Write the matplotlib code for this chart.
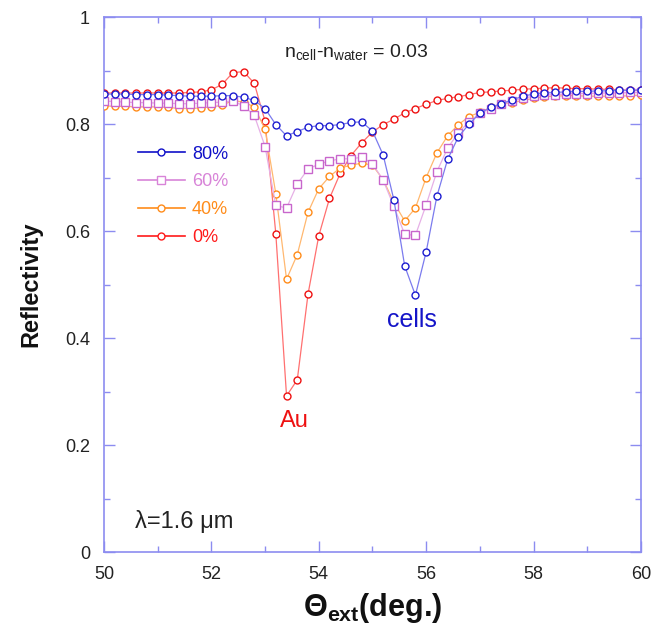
import numpy as np
import matplotlib
matplotlib.use('Agg')
import matplotlib.pyplot as plt
from matplotlib.lines import Line2D
from matplotlib.ticker import MultipleLocator

plt.rcParams['font.family'] = ['Liberation Sans', 'DejaVu Sans']
plt.rcParams['mathtext.fontset'] = 'custom'
plt.rcParams['mathtext.rm'] = 'Liberation Sans'
plt.rcParams['mathtext.it'] = 'Liberation Sans'
plt.rcParams['mathtext.bf'] = 'Liberation Sans:bold'

# incidence angle (deg.)
angle = [50.0, 50.2, 50.4, 50.6, 50.8, 51.0, 51.2, 51.4, 51.6, 51.8,
         52.0, 52.2, 52.4, 52.6, 52.8, 53.0, 53.2, 53.4, 53.6, 53.8,
         54.0, 54.2, 54.4, 54.6, 54.8, 55.0, 55.2, 55.4, 55.6, 55.8,
         56.0, 56.2, 56.4, 56.6, 56.8, 57.0, 57.2, 57.4, 57.6, 57.8,
         58.0, 58.2, 58.4, 58.6, 58.8, 59.0, 59.2, 59.4, 59.6, 59.8, 60.0]

# reflectivity for each cell coverage
r_80 = [0.856, 0.856, 0.856, 0.855, 0.855, 0.855, 0.854, 0.853, 0.852, 0.852,
        0.852, 0.853, 0.853, 0.850, 0.844, 0.829, 0.799, 0.778, 0.786, 0.794,
        0.797, 0.797, 0.799, 0.803, 0.804, 0.787, 0.742, 0.658, 0.535, 0.480,
        0.561, 0.665, 0.734, 0.776, 0.800, 0.820, 0.831, 0.838, 0.845, 0.852,
        0.856, 0.858, 0.859, 0.860, 0.861, 0.861, 0.862, 0.862, 0.863, 0.863, 0.864]
r_60 = [0.843, 0.842, 0.841, 0.840, 0.840, 0.839, 0.839, 0.838, 0.838, 0.839,
        0.840, 0.841, 0.843, 0.834, 0.816, 0.758, 0.648, 0.643, 0.688, 0.716,
        0.725, 0.731, 0.735, 0.735, 0.738, 0.726, 0.695, 0.646, 0.594, 0.592,
        0.649, 0.711, 0.755, 0.784, 0.804, 0.820, 0.829, 0.837, 0.843, 0.848,
        0.852, 0.854, 0.855, 0.856, 0.857, 0.857, 0.858, 0.858, 0.858, 0.859, 0.859]
r_40 = [0.834, 0.833, 0.833, 0.832, 0.832, 0.832, 0.831, 0.829, 0.829, 0.830,
        0.832, 0.835, 0.844, 0.841, 0.832, 0.790, 0.670, 0.510, 0.556, 0.635,
        0.679, 0.702, 0.718, 0.723, 0.727, 0.723, 0.696, 0.653, 0.619, 0.643,
        0.700, 0.746, 0.778, 0.799, 0.814, 0.822, 0.831, 0.838, 0.840, 0.844,
        0.848, 0.851, 0.852, 0.853, 0.853, 0.852, 0.852, 0.852, 0.852, 0.853, 0.854]
r_0 = [0.858, 0.858, 0.858, 0.858, 0.858, 0.858, 0.858, 0.858, 0.859, 0.860,
       0.864, 0.874, 0.896, 0.898, 0.876, 0.805, 0.595, 0.292, 0.322, 0.482,
       0.591, 0.661, 0.708, 0.741, 0.765, 0.785, 0.799, 0.809, 0.821, 0.829,
       0.837, 0.844, 0.848, 0.851, 0.855, 0.859, 0.860, 0.862, 0.863, 0.865,
       0.866, 0.867, 0.868, 0.867, 0.866, 0.866, 0.865, 0.865, 0.864, 0.863, 0.863]

# label, data, marker, line colour, marker colour, legend colour
series = [
    ('80%', r_80, 'o', '#7b7bee', '#1c1cd0', '#1010c8'),
    ('60%', r_60, 's', '#e6b0e6', '#c866cc', '#d884d8'),
    ('40%', r_40, 'o', '#ffb870', '#ff8c1a', '#ff8c1a'),
    ('0%',  r_0,  'o', '#ff7070', '#ee1111', '#ff1a1a'),
]

axis_col = '#8c8cf0'

fig = plt.figure(figsize=(6.54, 6.42), dpi=100)
ax = fig.add_axes([0.159, 0.140, 0.821, 0.8335])

handles = []
for label, vals, mk, lc, mc, legc in series[::-1]:
    ax.plot(angle, vals, color=lc, lw=0.9, marker=mk, ms=5 if mk == 'o' else 5.5,
            mfc='white', mec=mc, mew=1.0, zorder=3)
for label, vals, mk, lc, mc, legc in series:
    handles.append(Line2D([], [], color=legc, lw=1.2, marker=mk, ms=5 if mk == 'o' else 5.5,
                          mfc='white', mec=legc, mew=1.0, label=label))

leg = ax.legend(handles=handles, loc='upper left', bbox_to_anchor=(0.033, 0.79),
                frameon=False, fontsize=13, handlelength=2.6, handletextpad=0.4,
                labelspacing=0.6, labelcolor=[h.get_color() for h in handles])

ax.set_xlim(50, 60)
ax.set_ylim(0, 1)
ax.xaxis.set_major_locator(MultipleLocator(2))
ax.xaxis.set_minor_locator(MultipleLocator(1))
ax.yaxis.set_minor_locator(MultipleLocator(0.1))
ax.set_yticks([0, 0.2, 0.4, 0.6, 0.8, 1.0])
ax.set_yticklabels(['0', '0.2', '0.4', '0.6', '0.8', '1'])
ax.tick_params(which='both', direction='in', top=True, right=True, color=axis_col,
               labelcolor='#222222', labelsize=13)
ax.tick_params(which='major', length=8, width=1, pad=10)
ax.tick_params(which='minor', length=4, width=1)
for s in ax.spines.values():
    s.set_color(axis_col)
    s.set_linewidth(1.2)

ax.set_ylabel('Reflectivity', fontsize=17, fontweight='bold', color='#111111', labelpad=16)
ax.set_xlabel('Θ$_{\\mathbf{ext}}$(deg.)', fontsize=22, fontweight='bold',
              color='#111111', labelpad=6)

ax.text(0.335, 0.925, 'n$_{\\rm cell}$-n$_{\\rm water}$ = 0.03', transform=ax.transAxes,
        fontsize=14, color='#222222')
ax.text(0.057, 0.045, 'λ=1.6 μm', transform=ax.transAxes, fontsize=17, color='#222222')
ax.text(0.327, 0.233, 'Au', transform=ax.transAxes, fontsize=17, color='#ee1111')
ax.text(0.528, 0.42, 'cells', transform=ax.transAxes, fontsize=18, color='#1515c8')

fig.savefig('out.png', dpi=100)
